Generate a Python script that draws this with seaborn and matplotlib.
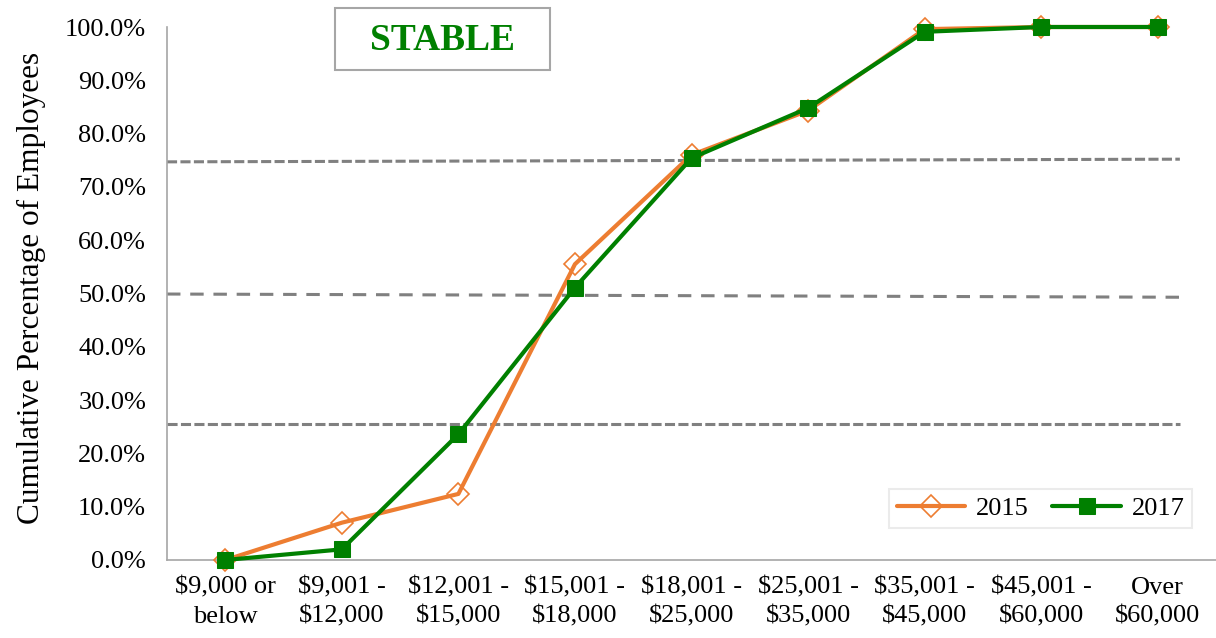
import matplotlib
matplotlib.use("Agg")
import matplotlib.pyplot as plt
from matplotlib.patches import Rectangle
import seaborn as sns
import pandas as pd
import numpy as np

# data
salary_bands = ["$9,000 or\nbelow", "$9,001 -\n$12,000", "$12,001 -\n$15,000",
                "$15,001 -\n$18,000", "$18,001 -\n$25,000", "$25,001 -\n$35,000",
                "$35,001 -\n$45,000", "$45,001 -\n$60,000", "Over\n$60,000"]
cum_2015 = [0.0, 7.0, 12.4, 55.5, 76.0, 84.3, 99.6, 100.0, 100.0]
cum_2017 = [0.0, 2.0, 23.6, 51.1, 75.4, 84.8, 99.1, 100.0, 100.0]
# quartile guide lines (left value, right value)
guide_q3 = [74.7, 75.2]
guide_q2 = [49.9, 49.3]
guide_q1 = [25.5, 25.5]

sns.set_style("white")
plt.rcParams['font.family'] = ['Liberation Serif', 'DejaVu Serif']
plt.rcParams['text.color'] = 'black'
plt.rcParams['axes.labelcolor'] = 'black'
plt.rcParams['xtick.labelcolor'] = 'black'
plt.rcParams['ytick.labelcolor'] = 'black'

orange = "#ED7D31"
green = "#008000"

pos = np.arange(len(salary_bands))
df = pd.DataFrame({"pos": np.concatenate([pos, pos]),
                   "pct": cum_2015 + cum_2017,
                   "year": ["2015"] * len(pos) + ["2017"] * len(pos)})

fig = plt.figure(figsize=(12.16, 6.38), dpi=100)
ax = fig.add_axes([167 / 1216, 78 / 638, 1 - 167 / 1216, (560 - 27) / 638])

# dashed guide lines
gx = [-0.5, 8.19]
ax.plot(gx, guide_q3, color="#808080", lw=2.2, ls=(0, (3.3, 1.1)), zorder=1)
ax.plot(gx, guide_q2, color="#808080", lw=2.2, ls=(0, (4.4, 3.2)), zorder=1)
ax.plot(gx, guide_q1, color="#808080", lw=2.2, ls=(0, (3.3, 1.1)), zorder=1)

sns.lineplot(data=df[df.year == "2015"], x="pos", y="pct", ax=ax, color=orange,
             lw=3, marker="D", markersize=11, markerfacecolor="none",
             markeredgecolor=orange, markeredgewidth=1.2, label="2015",
             clip_on=False, zorder=3)
sns.lineplot(data=df[df.year == "2017"], x="pos", y="pct", ax=ax, color=green,
             lw=3, marker="s", markersize=12, markerfacecolor=green,
             markeredgecolor=green, label="2017", clip_on=False, zorder=4)

ax.set_xlim(-0.5, 8.5)
ax.set_ylim(0, 100)
ax.set_yticks(np.arange(0, 101, 10))
ax.set_yticklabels([f"{v:.1f}%" for v in np.arange(0, 101, 10)], fontsize=19)
ax.set_xticks(pos)
ax.set_xticklabels(salary_bands, fontsize=19, linespacing=1.4)
ax.set_xticks(np.arange(-0.5, 8.6, 1), minor=True)
ax.tick_params(axis="x", which="major", length=0, pad=12)
ax.tick_params(axis="x", which="minor", length=7, color="#A6A6A6", width=1.2, direction="out")
ax.tick_params(axis="y", length=6, color="#A6A6A6", width=1.2, direction="out", pad=9)
ax.set_xlabel("")
ax.set_ylabel("Cumulative Percentage of Employees", fontsize=22.5)
ax.yaxis.set_label_coords(-0.115, 0.51)

for s in ["top", "right"]:
    ax.spines[s].set_visible(False)
for s in ["left", "bottom"]:
    ax.spines[s].set_color("#A6A6A6")
    ax.spines[s].set_linewidth(1.2)

leg = ax.legend(loc="lower right", ncol=2, fontsize=19, frameon=True,
                fancybox=False, handlelength=2.6, columnspacing=0.9,
                handletextpad=0.4, bbox_to_anchor=(0.99, 0.035), borderpad=0.3)
leg.get_frame().set_edgecolor("#E6E6E6")
leg.get_frame().set_linewidth(1.5)

# STABLE label box
fig.patches.append(Rectangle((335 / 1216, 1 - 70 / 638), 215 / 1216, 62 / 638,
                             transform=fig.transFigure, facecolor="white",
                             edgecolor="#A6A6A6", linewidth=1.5, zorder=5))
fig.text(442 / 1216, 1 - 40 / 638, "STABLE", color=green, fontsize=27,
         fontweight="bold", ha="center", va="center", zorder=6)

fig.savefig("out.png", dpi=100)
